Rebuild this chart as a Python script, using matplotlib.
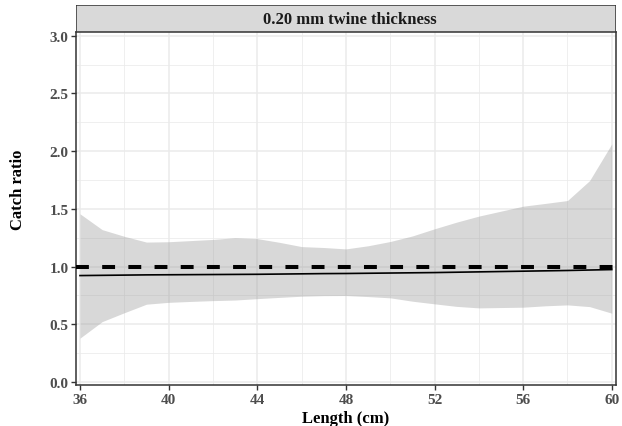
import matplotlib.pyplot as plt
from matplotlib.patches import Rectangle
from matplotlib.ticker import MultipleLocator

plt.switch_backend('agg')
plt.rcParams['font.family'] = ['Liberation Serif', 'DejaVu Serif']
plt.rcParams['font.weight'] = 'bold'

# fitted catch ratio and its confidence band by fish length
length = [36, 37, 38, 39, 40, 41, 42, 43, 44, 45, 46, 47, 48,
          49, 50, 51, 52, 53, 54, 55, 56, 57, 58, 59, 60]
ratio = [0.922, 0.924, 0.926, 0.928, 0.929, 0.930, 0.931, 0.932, 0.933, 0.935, 0.937, 0.939, 0.940,
         0.942, 0.944, 0.946, 0.948, 0.951, 0.954, 0.957, 0.960, 0.963, 0.966, 0.970, 0.974]
upper = [1.457, 1.320, 1.262, 1.212, 1.215, 1.225, 1.235, 1.250, 1.242, 1.210, 1.173, 1.165, 1.153,
         1.180, 1.217, 1.265, 1.327, 1.385, 1.437, 1.480, 1.523, 1.547, 1.572, 1.745, 2.063]
lower = [0.380, 0.523, 0.600, 0.674, 0.690, 0.698, 0.705, 0.710, 0.722, 0.733, 0.743, 0.748, 0.749,
         0.740, 0.729, 0.700, 0.677, 0.655, 0.642, 0.645, 0.648, 0.660, 0.668, 0.653, 0.596]
panel_title = '0.20 mm twine thickness'

fig = plt.figure(figsize=(6.22, 4.27), dpi=100)
ax = fig.add_axes([76 / 622, 1 - 386 / 427, 540 / 622, 353 / 427])

ax.fill_between(length, lower, upper, color=(0.6, 0.6, 0.6), alpha=0.38, linewidth=0, zorder=2)
ax.axhline(1.0, color='black', linewidth=2.9, dashes=(3.2, 3.3), zorder=3)
ax.plot(length, ratio, color='black', linewidth=1.2, zorder=4)

ax.set_xlim(35.82, 60.19)
ax.set_ylim(-0.026, 3.032)
ax.xaxis.set_minor_locator(MultipleLocator(2))
ax.yaxis.set_minor_locator(MultipleLocator(0.25))
ax.set_xticks([36, 40, 44, 48, 52, 56, 60])
ax.set_yticks([0.0, 0.5, 1.0, 1.5, 2.0, 2.5, 3.0])
ax.set_yticklabels(['0.0', '0.5', '1.0', '1.5', '2.0', '2.5', '3.0'])

ax.grid(which='major', color='#EBEBEB', linewidth=1.1, zorder=0)
ax.grid(which='minor', color='#EBEBEB', linewidth=0.55, zorder=0)
ax.set_axisbelow(True)

for s in ax.spines.values():
    s.set_color('#333333')
    s.set_linewidth(1.1)
ax.tick_params(which='major', length=3.5, width=1.0, color='#333333',
               labelcolor='#4D4D4D', labelsize=11, pad=2)
ax.tick_params(which='minor', length=0)

# axis titles
fig.text(346 / 622, 1 - 419 / 427, 'Length (cm)', ha='center', va='center',
         fontsize=12, fontweight='bold')
fig.text(18.5 / 622, 1 - 190 / 427, 'Catch ratio', ha='center', va='center',
         rotation=90, fontsize=12, fontweight='bold')

# facet strip above the panel
strip = fig.add_axes([76 / 622, 1 - 33 / 427, 540 / 622, 27 / 427])
strip.add_patch(Rectangle((0, 0), 1, 1, transform=strip.transAxes,
                          facecolor='#D9D9D9', edgecolor='#333333', linewidth=1.1))
strip.text(0.507, 0.5, panel_title, ha='center', va='center',
           fontsize=12, fontweight='bold', color='#1A1A1A')
strip.set_axis_off()

plt.savefig('out.png', dpi=100)
